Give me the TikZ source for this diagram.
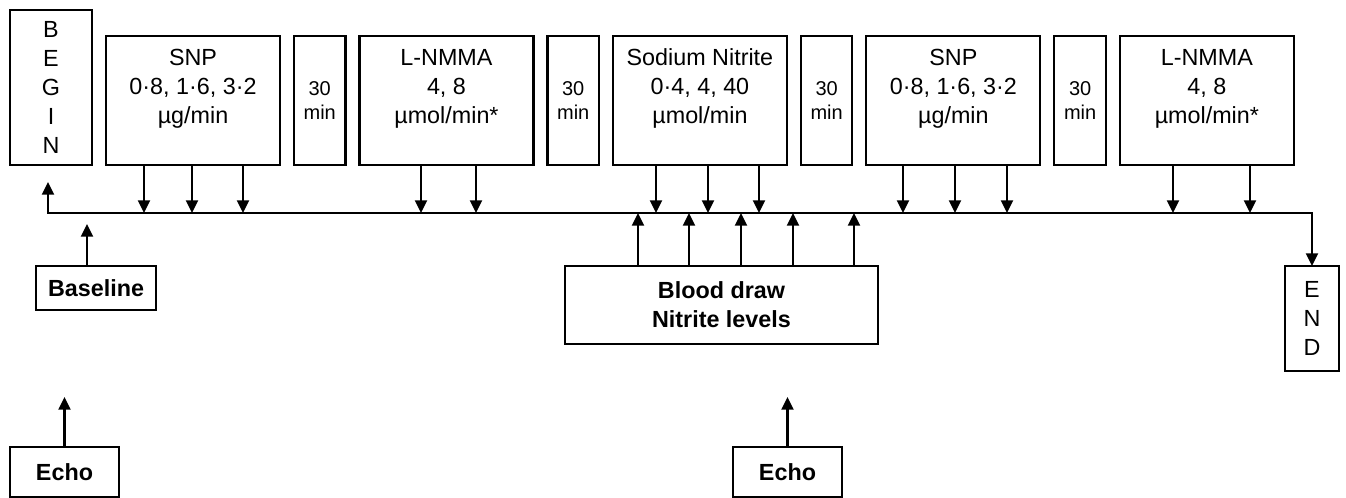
\documentclass[tikz,border=0pt]{standalone}
\usepackage{fontspec}
\setmainfont{Liberation Sans}
\usetikzlibrary{positioning,arrows.meta}
\newcommand{\boxfont}{\fontsize{17.5pt}{21.75pt}\selectfont}
\newcommand{\minfont}{\fontsize{15pt}{18pt}\selectfont}

\begin{document}
\begin{tikzpicture}[x=0.75pt,y=-0.75pt,node distance=10.5pt,
      >={Triangle[length=9.5pt,width=9pt]},
      box/.style={draw,line width=1.6pt,inner sep=0pt,outer sep=0pt,align=center,font=\boxfont},
      dose/.style={box,minimum width=130.5pt,minimum height=96.75pt},
      wait/.style={box,minimum width=38.6pt,minimum height=96.75pt,font=\minfont},
      info/.style={box,font=\boxfont\bfseries},
      arr/.style={->,line width=1.6pt}]
    \useasboundingbox (0,0) rectangle (1346,498);
    % infusion steps
    \node[box,minimum width=61.5pt,minimum height=116.25pt] (begin) at (51,87.5) {B\\E\\G\\I\\N};
    \node[dose] (snpa) at (193,100.5) {SNP\\0·8, 1·6, 3·2\\µg/min\\\mbox{}};
    \node[wait,right=of snpa] (tma) {30\\min};
    \node[dose,right=of tma] (lnmmaa) {L-NMMA\\4, 8\\µmol/min*\\\mbox{}};
    \node[wait,right=of lnmmaa] (tmb) {30\\min};
    \node[dose,right=of tmb] (sodium) {Sodium Nitrite\\0·4, 4, 40\\µmol/min\\\mbox{}};
    \node[wait,right=of sodium] (tmc) {30\\min};
    \node[dose,right=of tmc] (snpb) {SNP\\0·8, 1·6, 3·2\\µg/min\\\mbox{}};
    \node[wait,right=of snpb] (tmd) {30\\min};
    \node[dose,right=of tmd] (lnmmab) {L-NMMA\\4, 8\\µmol/min*\\\mbox{}};
    \node[box,minimum width=40.5pt,minimum height=78.75pt] (endbox) at (1312,318.5) {E\\N\\D};
    % measurements
    \node[info,minimum width=90pt,minimum height=33pt] (baseline) at (96,288) {Baseline};
    \node[info,minimum width=234.75pt,minimum height=58.5pt] (blood) at (721.5,305) {Blood draw\\Nitrite levels};
    \node[info,minimum width=81.75pt,minimum height=37.5pt] (echoa) at (64.5,472) {Echo};
    \node[info,minimum width=81.75pt,minimum height=37.5pt] (echob) at (787.5,472) {Echo};
    % time line
    \coordinate (tl) at (48,213);
    \coordinate (basetip) at (87,224);
    \draw[arr,<->] (tl |- 0,182) -- (tl) -| (endbox);
    \foreach \x in {144,192,243} \draw[arr] (snpa.south -| \x,0) -- (tl -| \x,0);
    \foreach \x in {421,476} \draw[arr] (lnmmaa.south -| \x,0) -- (tl -| \x,0);
    \foreach \x in {656,708,759} \draw[arr] (sodium.south -| \x,0) -- (tl -| \x,0);
    \foreach \x in {903,955,1007} \draw[arr] (snpb.south -| \x,0) -- (tl -| \x,0);
    \foreach \x in {1173,1250} \draw[arr] (lnmmab.south -| \x,0) -- (tl -| \x,0);
    \foreach \x in {638,689,741,793,854} \draw[arr] (blood.north -| \x,0) -- (tl -| \x,0);
    \draw[arr] (baseline.north -| basetip) -- (basetip);
    \draw[arr] (echoa) -- (echoa |- 0,397);
    \draw[arr] (echob) -- (echob |- 0,397);
  \end{tikzpicture}
\end{document}
